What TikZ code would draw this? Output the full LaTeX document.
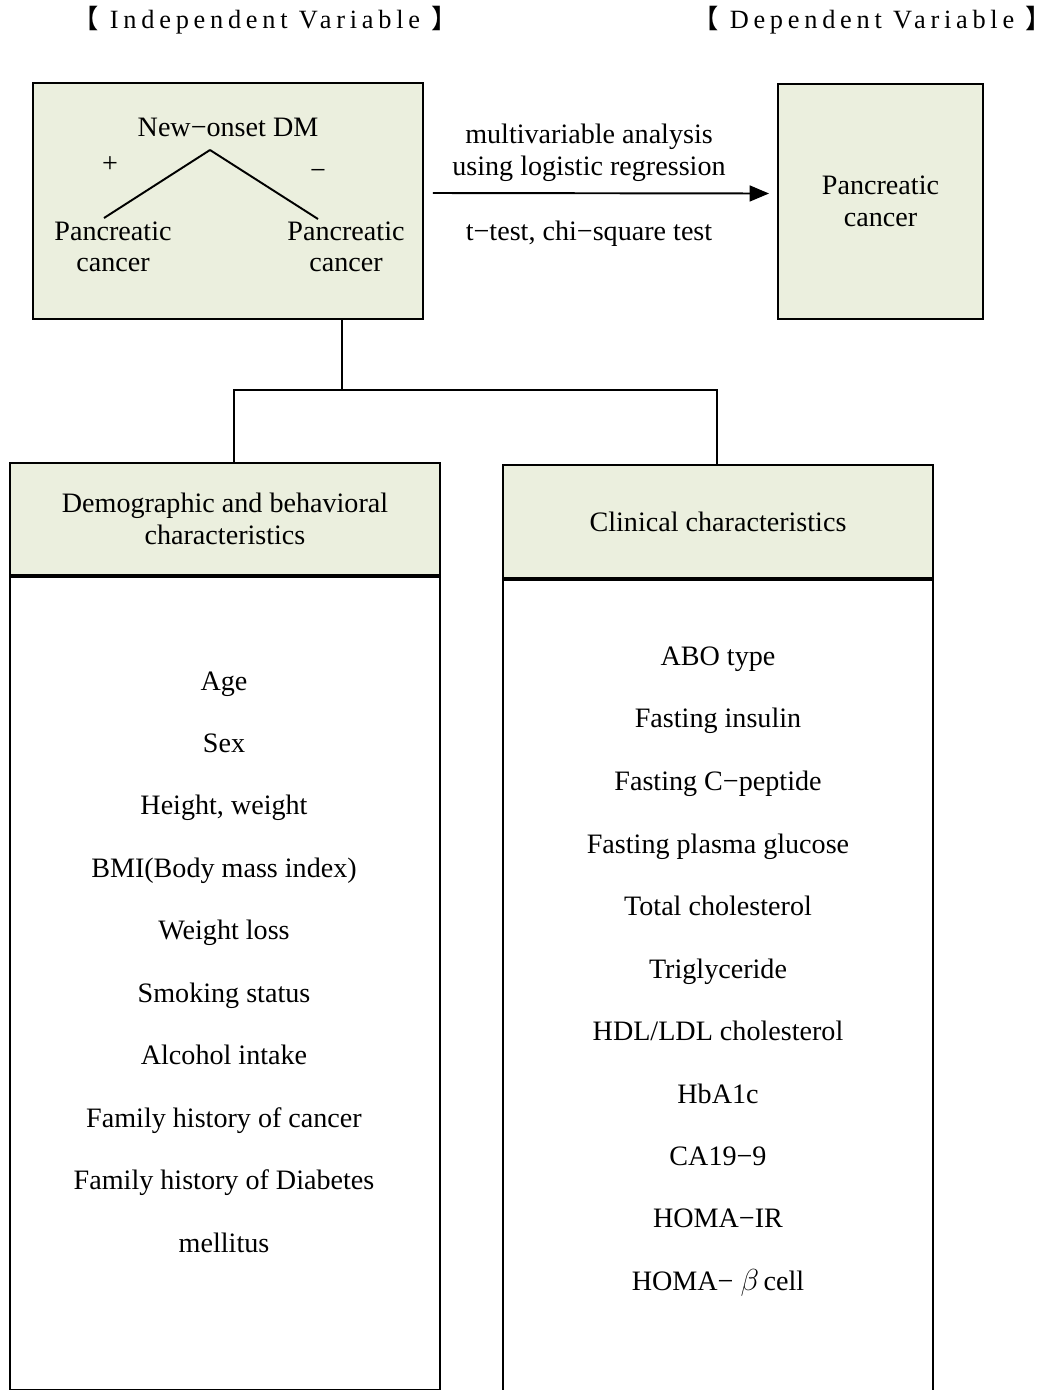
\documentclass[tikz,border=0pt]{standalone}
\usepackage{fontspec}
\setmainfont{Liberation Serif}
\newfontfamily\cjkfont{Noto Sans CJK KR}
\usetikzlibrary{arrows.meta}
\definecolor{boxfill}{RGB}{235,239,222}
\tikzstyle{boxStyle}=[shape = rectangle, draw, line width = 1.1pt, fill = boxfill, inner sep = 0pt]
\tikzstyle{bodyStyle}=[shape = rectangle, draw, line width = 1.1pt, fill = white, inner sep = 0pt]
\tikzstyle{textStyle}=[font = \fontsize{16}{18}\selectfont, align = center, inner sep = 0pt]
\tikzstyle{itemStyle}=[font = \fontsize{16}{18}\selectfont, inner sep = 0pt, text height = 13pt, text depth = 2pt]
\tikzstyle{headStyle}=[font = \fontsize{15}{18}\selectfont\addfontfeature{LetterSpace=18}, inner sep = 0pt]

\begin{document}
\begin{tikzpicture}[x = 0.02cm, y = -0.02cm]
\useasboundingbox (0,0) rectangle (1051,1390);
\tikzstyle{lineStyle}=[line width = 1.1pt]
\tikzstyle{arrowStyle}=[line width = 1.1pt, -{Triangle[length=11pt, width=9pt]}]
% headings
\node[headStyle] (indepHead) at (265,20) {{\cjkfont 【}\ Independent Variable\ {\cjkfont 】}};
\node[headStyle] (depHead) at (872,20) {{\cjkfont 【}\ Dependent Variable\ {\cjkfont 】}};
% top boxes
\node[boxStyle, minimum width = 390*0.02cm, minimum height = 236*0.02cm] (indep) at (228,201) {};
\node[boxStyle, textStyle, draw, minimum width = 205*0.02cm, minimum height = 235*0.02cm] (dep) at (880.5,201.5) {Pancreatic\\cancer};
\node[itemStyle] (dm) at (228,127) {New−onset DM};
\node[itemStyle] (plus) at (110,163) {+};
\node[itemStyle] (minus) at (318,170) {−};
\node[textStyle] (pcPos) at (113,247) {Pancreatic\\cancer};
\node[textStyle] (pcNeg) at (346,247) {Pancreatic\\cancer};
\coordinate (apex) at (210,150);
\draw[lineStyle] (apex) -- (104,218);
\draw[lineStyle] (apex) -- (318,219);
% analysis arrow
\draw[arrowStyle] ([shift={(9,-8)}]indep.east) -- ([shift={(-8,-8)}]dep.west);
\node[textStyle] (multi) at (589,153) {multivariable analysis\\using logistic regression};
\node[itemStyle] (ttest) at (589,231) {t−test, chi−square test};
% lower boxes
\node[boxStyle, textStyle, minimum width = 430*0.02cm, minimum height = 112*0.02cm] (demoHead) at (225,519) {Demographic and behavioral\\characteristics};
\node[bodyStyle, minimum width = 430*0.02cm, minimum height = 813*0.02cm, anchor = north] (demoBody) at (demoHead.south) {};
\node[boxStyle, itemStyle, minimum width = 430*0.02cm, minimum height = 113*0.02cm] (clinHead) at (718,521.5) {Clinical characteristics};
\node[bodyStyle, minimum width = 430*0.02cm, minimum height = 840*0.02cm, anchor = north] (clinBody) at (clinHead.south) {};
% connectors
\coordinate (split) at (342,390);
\coordinate (jl) at (234,390);
\coordinate (jr) at (717,390);
\draw[lineStyle] (indep.south -| split) -- (split);
\draw[lineStyle] (jl |- demoHead.north) -- (jl) -- (jr) -- (jr |- clinHead.north);
% demographic items
\node[itemStyle] (age) at (224,681) {Age};
\node[itemStyle] (sex) at (224,743) {Sex};
\node[itemStyle] (height) at (224,805) {Height, weight};
\node[itemStyle] (bmi) at (224,868) {BMI(Body mass index)};
\node[itemStyle] (wloss) at (224,930) {Weight loss};
\node[itemStyle] (smoke) at (224,993) {Smoking status};
\node[itemStyle] (alcohol) at (224,1055) {Alcohol intake};
\node[itemStyle] (famCancer) at (224,1118) {Family history of cancer};
\node[itemStyle] (famDiab) at (224,1180) {Family history of Diabetes};
\node[itemStyle] (mellitus) at (224,1243) {mellitus};
% clinical items
\node[itemStyle] (abo) at (718,656) {ABO type};
\node[itemStyle] (insulin) at (718,718) {Fasting insulin};
\node[itemStyle] (cpep) at (718,781) {Fasting C−peptide};
\node[itemStyle] (fpg) at (718,844) {Fasting plasma glucose};
\node[itemStyle] (tchol) at (718,906) {Total cholesterol};
\node[itemStyle] (trig) at (718,969) {Triglyceride};
\node[itemStyle] (hdl) at (718,1031) {HDL/LDL cholesterol};
\node[itemStyle] (hba) at (718,1094) {HbA1c};
\node[itemStyle] (ca) at (718,1156) {CA19−9};
\node[itemStyle] (homaIR) at (718,1218) {HOMA−IR};
\node[itemStyle] (homaB) at (718,1281) {HOMA− $\beta$\,cell};
\end{tikzpicture}
\end{document}
